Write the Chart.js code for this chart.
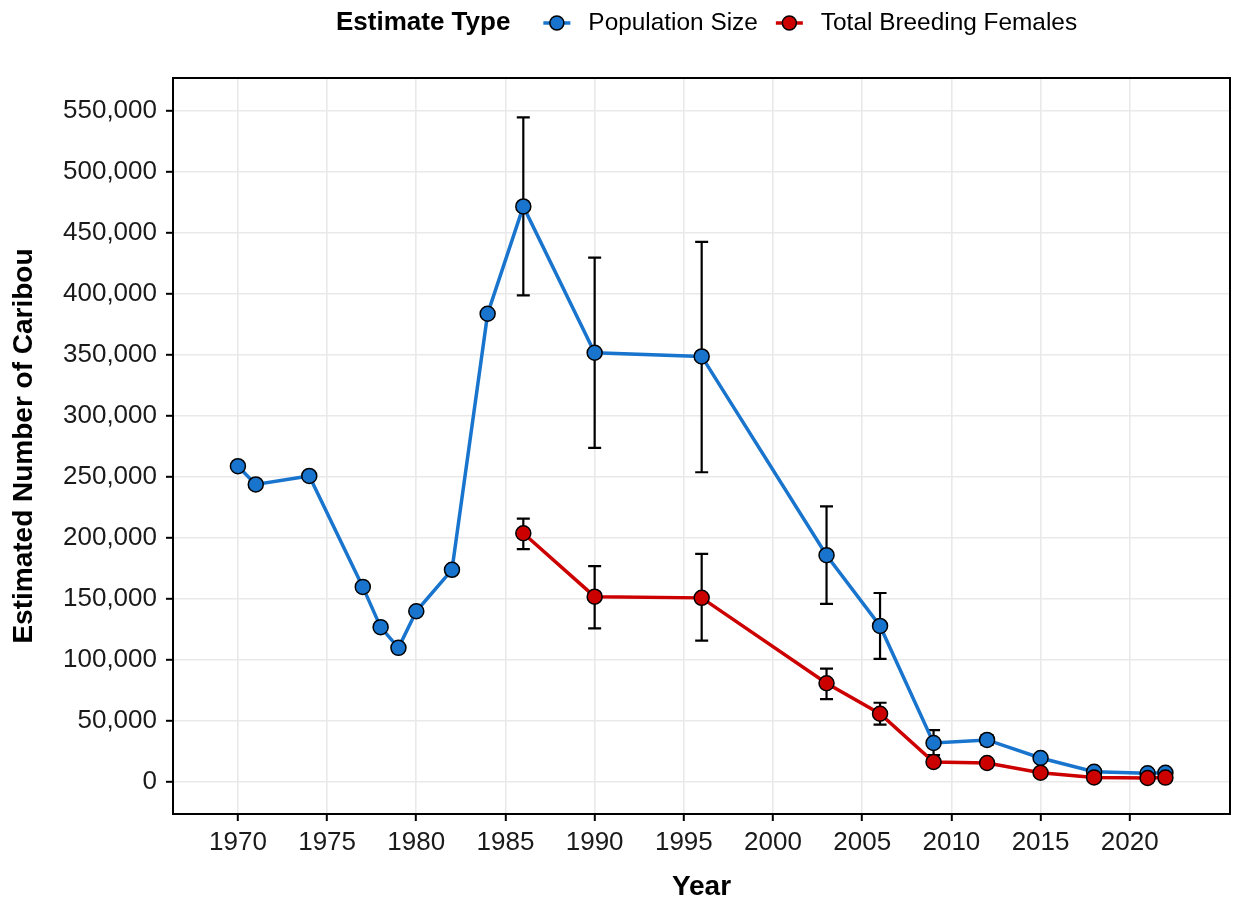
<!DOCTYPE html>
<html>
<head>
<meta charset="utf-8">
<script src="https://cdn.jsdelivr.net/npm/chart.js@4.4.1/dist/chart.umd.min.js"></script>
<style>
  html, body { margin: 0; padding: 0; background: #ffffff; }
  #wrap { width: 1239px; height: 901px; position: relative; }
</style>
</head>
<body>
<div id="wrap"><canvas id="c" width="1239" height="901"></canvas></div>
<script>
// ---- Data ----
const popYears   = [1970, 1971, 1974, 1977, 1978, 1979, 1980, 1982, 1984, 1986, 1990, 1996, 2003, 2006, 2009, 2012, 2015, 2018, 2021, 2022];
const popValues  = [259000, 244000, 251000, 160000, 127000, 110000, 140000, 174000, 384000, 472000, 352000, 349000, 186000, 128000, 32000, 34500, 19700, 8400, 7200, 7600];
const popLower   = [null, null, null, null, null, null, null, null, null, 399000, 274000, 254000, 146000, 101000, 22000, 30500, null, null, null, null];
const popUpper   = [null, null, null, null, null, null, null, null, null, 545000, 430000, 443000, 226000, 155000, 42500, 38500, null, null, null, null];

const bfYears    = [1986, 1990, 1996, 2003, 2006, 2009, 2012, 2015, 2018, 2021, 2022];
const bfValues   = [204000, 152000, 151000, 81000, 56000, 16400, 15600, 7600, 3800, 3300, 3600];
const bfLower    = [191000, 126000, 116000, 68000, 47000, null, null, null, null, null, null];
const bfUpper    = [216000, 177000, 187000, 93000, 65000, null, null, null, null, null, null];

const xTickValues = [1970, 1975, 1980, 1985, 1990, 1995, 2000, 2005, 2010, 2015, 2020];
const yTickValues = [0, 50000, 100000, 150000, 200000, 250000, 300000, 350000, 400000, 450000, 500000, 550000];

const legendTitle = 'Estimate Type';
const seriesNames = ['Population Size', 'Total Breeding Females'];
const xTitle = 'Year';
const yTitle = 'Estimated Number of Caribou';

const BLUE = '#1874CD';
const RED = '#CD0000';
const FONT = "'Liberation Sans', Arial, Helvetica, sans-serif";

function toPoints(xs, ys, lo, hi) {
  return xs.map((x, i) => ({ x: x, y: ys[i], lo: lo[i], hi: hi[i] }));
}

// Error bars plugin (drawn through the chart's scales)
const errorBars = {
  id: 'errorBars',
  beforeDatasetsDraw(chart) {
    const ctx = chart.ctx;
    const xs = chart.scales.x, ys = chart.scales.y;
    ctx.save();
    ctx.strokeStyle = '#000000';
    ctx.lineWidth = 2.2;
    const cap = 6.5;
    chart.data.datasets.forEach(ds => {
      ds.data.forEach(p => {
        if (p.lo == null || p.hi == null) return;
        const px = xs.getPixelForValue(p.x);
        const yl = ys.getPixelForValue(p.lo);
        const yh = ys.getPixelForValue(p.hi);
        ctx.beginPath();
        ctx.moveTo(px, yl); ctx.lineTo(px, yh);
        ctx.moveTo(px - cap, yl); ctx.lineTo(px + cap, yl);
        ctx.moveTo(px - cap, yh); ctx.lineTo(px + cap, yh);
        ctx.stroke();
      });
    });
    ctx.restore();
  }
};

// Panel border + legend
const panelAndLegend = {
  id: 'panelAndLegend',
  afterDraw(chart) {
    const ctx = chart.ctx;
    const a = chart.chartArea;
    ctx.save();
    ctx.strokeStyle = '#000000';
    ctx.lineWidth = 2;
    ctx.strokeRect(a.left, a.top, a.right - a.left, a.bottom - a.top);

    // Legend
    const y = 23;
    let x = 336;
    ctx.textBaseline = 'middle';
    ctx.textAlign = 'left';
    ctx.fillStyle = '#000000';
    ctx.font = 'bold 26px ' + FONT;
    ctx.fillText(legendTitle, x, y);
    x += ctx.measureText(legendTitle).width + 33;
    ctx.font = '24.4px ' + FONT;
    chart.data.datasets.forEach((ds, i) => {
      // key line
      ctx.strokeStyle = ds.borderColor;
      ctx.lineWidth = 3.5;
      ctx.beginPath();
      ctx.moveTo(x, y); ctx.lineTo(x + 27, y);
      ctx.stroke();
      ctx.beginPath();
      ctx.arc(x + 13.5, y, 7, 0, Math.PI * 2);
      ctx.fillStyle = ds.backgroundColor;
      ctx.fill();
      ctx.strokeStyle = '#000000';
      ctx.lineWidth = 1.5;
      ctx.stroke();
      x += 27 + 18;
      ctx.fillStyle = '#000000';
      ctx.fillText(ds.label, x, y);
      x += ctx.measureText(ds.label).width + 18;
    });
    ctx.restore();
  }
};

const ctx = document.getElementById('c').getContext('2d');
new Chart(ctx, {
  type: 'line',
  data: {
    datasets: [
      {
        label: seriesNames[0],
        data: toPoints(popYears, popValues, popLower, popUpper),
        borderColor: BLUE,
        backgroundColor: BLUE,
        borderWidth: 3.5,
        pointRadius: 7.5,
        pointBorderWidth: 1.5,
        pointBorderColor: '#000000',
        pointBackgroundColor: BLUE,
        tension: 0,
        order: 1
      },
      {
        label: seriesNames[1],
        data: toPoints(bfYears, bfValues, bfLower, bfUpper),
        borderColor: RED,
        backgroundColor: RED,
        borderWidth: 3.5,
        pointRadius: 7.5,
        pointBorderWidth: 1.5,
        pointBorderColor: '#000000',
        pointBackgroundColor: RED,
        tension: 0,
        order: 0
      }
    ]
  },
  options: {
    responsive: false,
    animation: false,
    devicePixelRatio: 1,
    layout: { padding: { top: 78, right: 2, bottom: 0, left: 0 } },
    plugins: {
      legend: { display: false },
      tooltip: { enabled: false },
      title: { display: false }
    },
    scales: {
      x: {
        type: 'linear',
        min: 1966.36,
        max: 2025.62,
        afterBuildTicks: s => { s.ticks = xTickValues.map(v => ({ value: v })); },
        afterFit: s => { s.height = 87; },
        ticks: {
          color: '#1a1a1a',
          font: { family: FONT, size: 26 },
          padding: 6,
          maxRotation: 0,
          autoSkip: false,
          callback: v => String(v)
        },
        grid: {
          color: '#e9e9e9',
          lineWidth: 1.6,
          tickColor: '#000000',
          tickLength: 7,
          tickWidth: 2
        },
        border: { display: false },
        title: {
          display: true,
          text: xTitle,
          color: '#000000',
          font: { family: FONT, size: 28, weight: 'bold', lineHeight: 1 },
          padding: { top: 0, bottom: 0 }
        }
      },
      y: {
        type: 'linear',
        min: -26230,
        max: 577300,
        afterBuildTicks: s => { s.ticks = yTickValues.map(v => ({ value: v })); },
        afterFit: s => { s.width = 173; },
        ticks: {
          color: '#1a1a1a',
          font: { family: FONT, size: 26 },
          padding: 9,
          autoSkip: false,
          callback: v => Number(v).toLocaleString('en-US')
        },
        grid: {
          color: '#e9e9e9',
          lineWidth: 1.6,
          tickColor: '#000000',
          tickLength: 7,
          tickWidth: 2
        },
        border: { display: false },
        title: {
          display: true,
          text: yTitle,
          color: '#000000',
          font: { family: FONT, size: 28, weight: 'bold', lineHeight: 1 },
          padding: { top: 10, bottom: 0 }
        }
      }
    }
  },
  plugins: [errorBars, panelAndLegend]
});
</script>
</body>
</html>
